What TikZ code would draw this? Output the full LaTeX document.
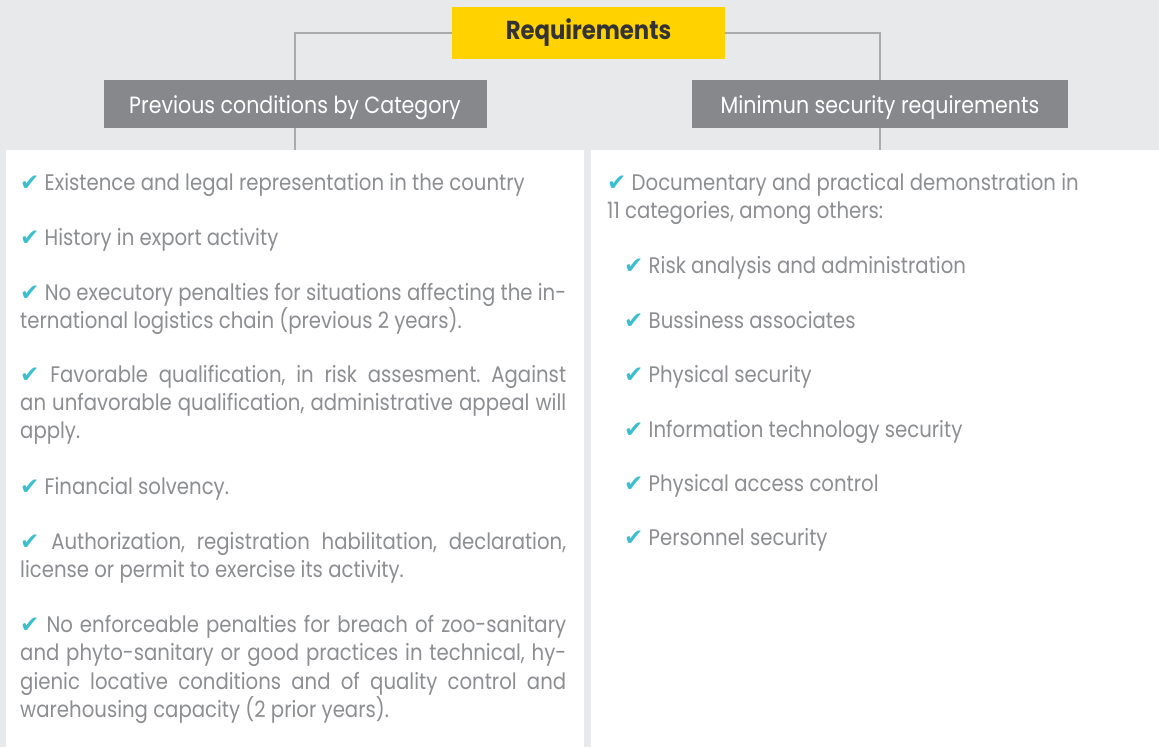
\documentclass[tikz,border=0pt]{standalone}
\usepackage{fontspec}
\setmainfont[FakeStretch=0.875]{Poppins}
\newfontfamily\dejavu{DejaVu Sans}
\definecolor{bg}{HTML}{E8E9EB}
\definecolor{yel}{HTML}{FFD200}
\definecolor{boxgray}{HTML}{87888C}
\definecolor{linegray}{HTML}{A9AAAC}
\definecolor{txtgray}{HTML}{8C8E91}
\definecolor{chk}{HTML}{3BBFCF}
\definecolor{dark}{HTML}{333333}
\newcommand\chk{{\color{chk}\dejavu\fontsize{23}{23}\selectfont ✔}}
\newcommand\jl[1]{\makebox[546pt][s]{#1}}
\frenchspacing
\begin{document}
\begin{tikzpicture}[x=1pt,y=-1pt,
  yelbox/.style={fill=yel, minimum width=273pt, minimum height=52pt, inner sep=0pt,
    text height=18pt, text depth=6pt,
    text=dark, font=\bfseries\fontsize{26}{26}\selectfont},
  hdrbox/.style={fill=boxgray, minimum height=48pt, inner sep=0pt,
    text height=21pt, text depth=3pt,
    text=white, font=\fontsize{23.5}{23.5}\selectfont},
  panel/.style={fill=white, minimum height=597pt, inner sep=0pt},
  conn/.style={draw=linegray, line width=1.3pt},
  txt/.style={anchor=base west, inner sep=0pt, text=txtgray, font=\fontsize{22.5}{28}\selectfont}]
\fill[bg] (0,0) rectangle (1159,747);
\useasboundingbox (0,0) rectangle (1159,747);
% panels
\node[panel, minimum width=578pt] (lp) at (295,448.5) {};
\node[panel, minimum width=568pt] (rp) at (875,448.5) {};
% header boxes
\node[yelbox] (req) at (588.5,33) {Requirements};
\node[hdrbox, minimum width=383pt] (prev) at (295,104) {Previous conditions by Category};
\node[hdrbox, minimum width=376pt] (mins) at (880,104) {Minimun security requirements};
% connectors
\draw[conn] (req.west) -| (prev.north);
\draw[conn] (req.east) -| (mins.north);
\draw[conn] (prev.south) -- (prev.south |- lp.north);
\draw[conn] (mins.south) -- (mins.south |- rp.north);
% left text
\node[txt] (l1) at (20,190) {\chk\ Existence and legal representation in the country};
\node[txt] (l2) at (20,245) {\chk\ History in export activity};
\node[txt] (l3a) at (20,300) {\jl{\chk\ No executory penalties for situations affecting the in-}};
\node[txt] (l3b) at (20,328) {ternational logistics chain (previous 2 years).};
\node[txt] (l4a) at (20,382) {\jl{\chk\ Favorable qualification, in risk assesment. Against}};
\node[txt] (l4b) at (20,410) {\jl{an unfavorable qualification, administrative appeal will}};
\node[txt] (l4c) at (20,438) {apply.};
\node[txt] (l5) at (20,494) {\chk\ Financial solvency.};
\node[txt] (l6a) at (20,549) {\jl{\chk\ Authorization, registration habilitation, declaration,}};
\node[txt] (l6b) at (20,577) {license or permit to exercise its activity.};
\node[txt] (l7a) at (20,632) {\jl{\chk\ No enforceable penalties for breach of zoo-sanitary}};
\node[txt] (l7b) at (20,660) {\jl{and phyto-sanitary or good practices in technical, hy-}};
\node[txt] (l7c) at (20,689) {\jl{gienic locative conditions and of quality control and}};
\node[txt] (l7d) at (20,717) {warehousing capacity (2 prior years).};
% right text
\node[txt] (r1a) at (607,190) {\chk\ Documentary and practical demonstration in};
\node[txt] (r1b) at (607,218) {11 categories, among others:};
\node[txt] (r2) at (624,273) {\chk\ Risk analysis and administration};
\node[txt] (r3) at (624,328) {\chk\ Bussiness associates};
\node[txt] (r4) at (624,382) {\chk\ Physical security};
\node[txt] (r5) at (624,437) {\chk\ Information technology security};
\node[txt] (r6) at (624,491) {\chk\ Physical access control};
\node[txt] (r7) at (624,545) {\chk\ Personnel security};
\end{tikzpicture}
\end{document}
